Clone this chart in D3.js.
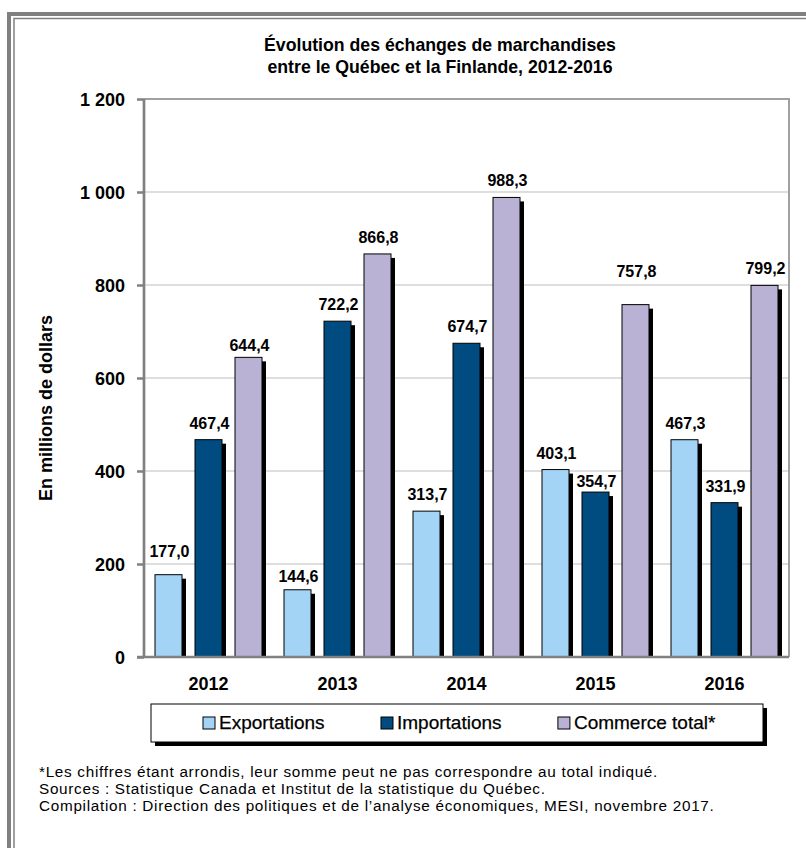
<!DOCTYPE html>
<html><head><meta charset="utf-8">
<script src="https://cdn.jsdelivr.net/npm/d3@7"></script>
<style>
html,body{margin:0;padding:0;background:#fff;}
svg{display:block;}
text{font-family:"Liberation Sans",Arial,sans-serif;fill:#000;}
</style></head>
<body>
<script>
// ---------- data ----------
const years = ["2012","2013","2014","2015","2016"];
const seriesNames = ["Exportations","Importations","Commerce total*"];
const exportations = [177.0, 144.6, 313.7, 403.1, 467.3];
const importations = [467.4, 722.2, 674.7, 354.7, 331.9];
const commerceTotal = [644.4, 866.8, 988.3, 757.8, 799.2];
const yTicks = [0, 200, 400, 600, 800, 1000, 1200];
const yTickLabels = ["0","200","400","600","800","1 000","1 200"];
const titleLines = ["Évolution des échanges de marchandises","entre le Québec et la Finlande, 2012-2016"];
const yTitle = "En millions de dollars";
const footnotes = [
  "*Les chiffres étant arrondis, leur somme peut ne pas correspondre au total indiqué.",
  "Sources : Statistique Canada et Institut de la statistique du Québec.",
  "Compilation : Direction des politiques et de l’analyse économiques, MESI, novembre 2017."
];

// ---------- styles / layout ----------
const colors = ["#A3D3F5", "#004B80", "#B9B2D4"];
const W = 806, H = 848;
const plot = {left:144, right:789, top:99, bottom:657};
// small manual label offsets (px) as in the reference
const labelNudge = {"2012|0":7, "2012|2":-5, "2013|0":-3, "2015|1":-6, "2015|2":17};

const values = [exportations, importations, commerceTotal];
const rows = years.map((y,i)=>({year:y, vals: values.map(v=>v[i])}));

const fr = d3.formatLocale({decimal:",", thousands:"\u00a0", grouping:[3], currency:["","$"]});
const fmt = fr.format(".1f");

const svg = d3.select("body").append("svg").attr("width",W).attr("height",H);

// outer frame
svg.append("rect").attr("x",9).attr("y",14).attr("width",W+20).attr("height",H+20)
  .attr("fill","none").attr("stroke","#808080").attr("stroke-width",4);
svg.append("rect").attr("x",14).attr("y",18.5).attr("width",W+20).attr("height",H+20)
  .attr("fill","none").attr("stroke","#808080").attr("stroke-width",1.5);

// scales
const x0 = d3.scaleBand().domain(years).range([plot.left, plot.right]).paddingInner(0).paddingOuter(0);
const x1 = d3.scaleBand().domain(d3.range(3)).range([11, 118]).paddingInner(0.325);
const y = d3.scaleLinear().domain([0,1200]).range([plot.bottom, plot.top]);

// gridlines
svg.append("g").selectAll("line").data(yTicks.filter(t=>t>0 && t<1200)).join("line")
  .attr("x1",plot.left).attr("x2",plot.right).attr("y1",d=>y(d)).attr("y2",d=>y(d))
  .attr("stroke","#BDBDBD").attr("stroke-width",1.2);
// plot top/right border
svg.append("path").attr("d",`M${plot.left},${y(1200)}H${plot.right}V${plot.bottom}`)
  .attr("fill","none").attr("stroke","#A0A0A0").attr("stroke-width",2);

// bars
const g = svg.append("g").selectAll("g").data(rows).join("g")
  .attr("transform",d=>`translate(${x0(d.year)},0)`);
const bw = x1.bandwidth();
const off = 4;
g.selectAll("rect.sh").data(d=>d.vals.map((v,k)=>({v,k}))).join("rect").attr("class","sh")
  .attr("x",d=>x1(d.k)+off).attr("y",d=>y(d.v)+off)
  .attr("width",bw).attr("height",d=>Math.max(0,y(0)-y(d.v)-off))
  .attr("fill","#000");
g.selectAll("rect.bar").data(d=>d.vals.map((v,k)=>({v,k}))).join("rect").attr("class","bar")
  .attr("x",d=>x1(d.k)).attr("y",d=>y(d.v))
  .attr("width",bw).attr("height",d=>y(0)-y(d.v))
  .attr("fill",d=>colors[d.k]).attr("stroke","#000").attr("stroke-width",1);
g.selectAll("text.val").data(d=>d.vals.map((v,k)=>({v,k,year:d.year}))).join("text").attr("class","val")
  .attr("x",d=>x1(d.k)+bw/2+1)
  .attr("y",d=>y(d.v)-11-(labelNudge[d.year+"|"+d.k]||0))
  .attr("text-anchor","middle").attr("font-size","16px").attr("font-weight","bold")
  .text(d=>fmt(d.v));

// axes
const yAxis = svg.append("g").attr("transform",`translate(${plot.left},0)`)
  .call(d3.axisLeft(y).tickValues(yTicks).tickSize(7).tickPadding(12)
    .tickFormat((d,i)=>yTickLabels[i]));
yAxis.select(".domain").attr("stroke","#808080").attr("stroke-width",2.7)
  .attr("d",`M0,${plot.top}V${plot.bottom}`);
yAxis.selectAll(".tick line").attr("stroke","#808080").attr("stroke-width",2.5);
yAxis.selectAll(".tick text").attr("font-size","18px").attr("font-weight","bold")
  .attr("font-family","Liberation Sans, Arial, sans-serif").attr("fill","#000").attr("dy","0.36em");

const xAxis = svg.append("g").attr("transform",`translate(0,${plot.bottom})`)
  .call(d3.axisBottom(x0).tickSize(0).tickPadding(0));
xAxis.select(".domain").attr("stroke","#808080").attr("stroke-width",2.7)
  .attr("d",`M${plot.left-7},0H${plot.right}`);
xAxis.selectAll(".tick text").attr("font-size","18px").attr("font-weight","bold")
  .attr("font-family","Liberation Sans, Arial, sans-serif").attr("fill","#000")
  .attr("y",33).attr("dy",0);

// title
svg.append("g").selectAll("text").data(titleLines).join("text")
  .attr("x",440).attr("y",(d,i)=>51+i*22).attr("text-anchor","middle")
  .attr("font-size","17.7px").attr("font-weight","bold").text(d=>d);

// y title
svg.append("text").attr("transform",`translate(52,408) rotate(-90)`)
  .attr("text-anchor","middle").attr("font-size","18px").attr("font-weight","bold").text(yTitle);

// legend
const lg = svg.append("g");
lg.append("rect").attr("x",155).attr("y",708).attr("width",612).attr("height",38).attr("fill","#000");
lg.append("rect").attr("x",151).attr("y",704).attr("width",612).attr("height",38)
  .attr("fill","#fff").attr("stroke","#000").attr("stroke-width",1);
const items = lg.selectAll("g.it").data(seriesNames).join("g").attr("class","it");
items.append("rect").attr("width",12).attr("height",12).attr("y",717)
  .attr("fill",(d,i)=>colors[i]).attr("stroke","#000").attr("stroke-width",1);
items.append("text").attr("x",16).attr("y",729).attr("font-size","19px")
  .attr("stroke","#000").attr("stroke-width",0.25).text(d=>d);
// lay out items evenly
const widths = [];
items.each(function(){ widths.push(this.getBBox().width); });
const total = d3.sum(widths);
const left = 203, right = 716;
const gap = (right-left-total)/(seriesNames.length-1);
let cx = left;
items.each(function(d,i){ d3.select(this).attr("transform",`translate(${cx},0)`); cx += widths[i]+gap; });

// footnotes
svg.append("g").selectAll("text").data(footnotes).join("text")
  .attr("x",39).attr("y",(d,i)=>777+i*17).attr("font-size","15.3px")
  .attr("letter-spacing","0.7px").text(d=>d);
</script>
</body></html>
